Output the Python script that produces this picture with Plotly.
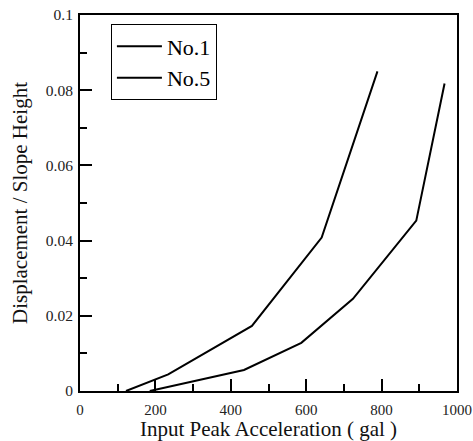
import plotly.graph_objects as go

# Input peak acceleration (gal) vs displacement / slope height
no1_x = [122, 234, 456, 641, 789]
no1_y = [0.0, 0.0044, 0.0173, 0.0408, 0.085]

no5_x = [185, 435, 587, 724, 892, 967]
no5_y = [0.0, 0.0056, 0.0128, 0.0245, 0.0453, 0.0818]

series_names = ["No.1", "No.5"]

FONT = "Liberation Serif"


def main():
    fig = go.Figure()
    fig.add_trace(go.Scatter(x=no1_x, y=no1_y, mode="lines", name=series_names[0],
                             line={"color": "black", "width": 2}))
    fig.add_trace(go.Scatter(x=no5_x, y=no5_y, mode="lines", name=series_names[1],
                             line={"color": "black", "width": 2}))

    axis_common = dict(
        showgrid=False, zeroline=False, automargin=False,
        showline=True, linecolor="black", linewidth=2, mirror=True,
        ticks="inside", ticklen=12, tickwidth=2, tickcolor="black",
        ticklabeloverflow="allow",
    )
    fig.update_xaxes(
        range=[0, 1000], dtick=200, tick0=0, ticklabelstandoff=4,
        tickfont={"family": FONT, "size": 15, "color": "#222"},
        minor={"dtick": 100, "ticks": "inside", "ticklen": 7, "tickwidth": 2, "tickcolor": "black"},
        title={"text": "Input Peak Acceleration ( gal )", "font": {"family": FONT, "size": 21, "color": "#111"},
               "standoff": 4},
        **axis_common,
    )
    fig.update_yaxes(
        range=[0, 0.1], dtick=0.02, tick0=0, ticklabelstandoff=2,
        tickfont={"family": FONT, "size": 15.5, "color": "#222"},
        minor={"dtick": 0.01, "ticks": "inside", "ticklen": 7, "tickwidth": 2, "tickcolor": "black"},
        title={"text": "Displacement / Slope Height", "font": {"family": FONT, "size": 21, "color": "#111"},
               "standoff": 12},
        **axis_common,
    )

    fig.update_layout(
        width=473, height=441,
        font={"family": FONT},
        margin={"l": 80, "r": 16, "t": 15, "b": 50, "autoexpand": False},
        plot_bgcolor="white", paper_bgcolor="white",
        legend={"x": 0.082, "y": 0.975, "xanchor": "left", "yanchor": "top",
                "bordercolor": "black", "borderwidth": 1, "bgcolor": "white",
                "itemwidth": 45,
                "font": {"family": FONT, "size": 22, "color": "black"}},
    )

    # drop the default 8px body margin so the figure sits at the window's corner
    fig.write_html("out.html", config={"displayModeBar": False},
                   post_script="document.body.style.margin='0';")


if __name__ == "__main__":
    main()
